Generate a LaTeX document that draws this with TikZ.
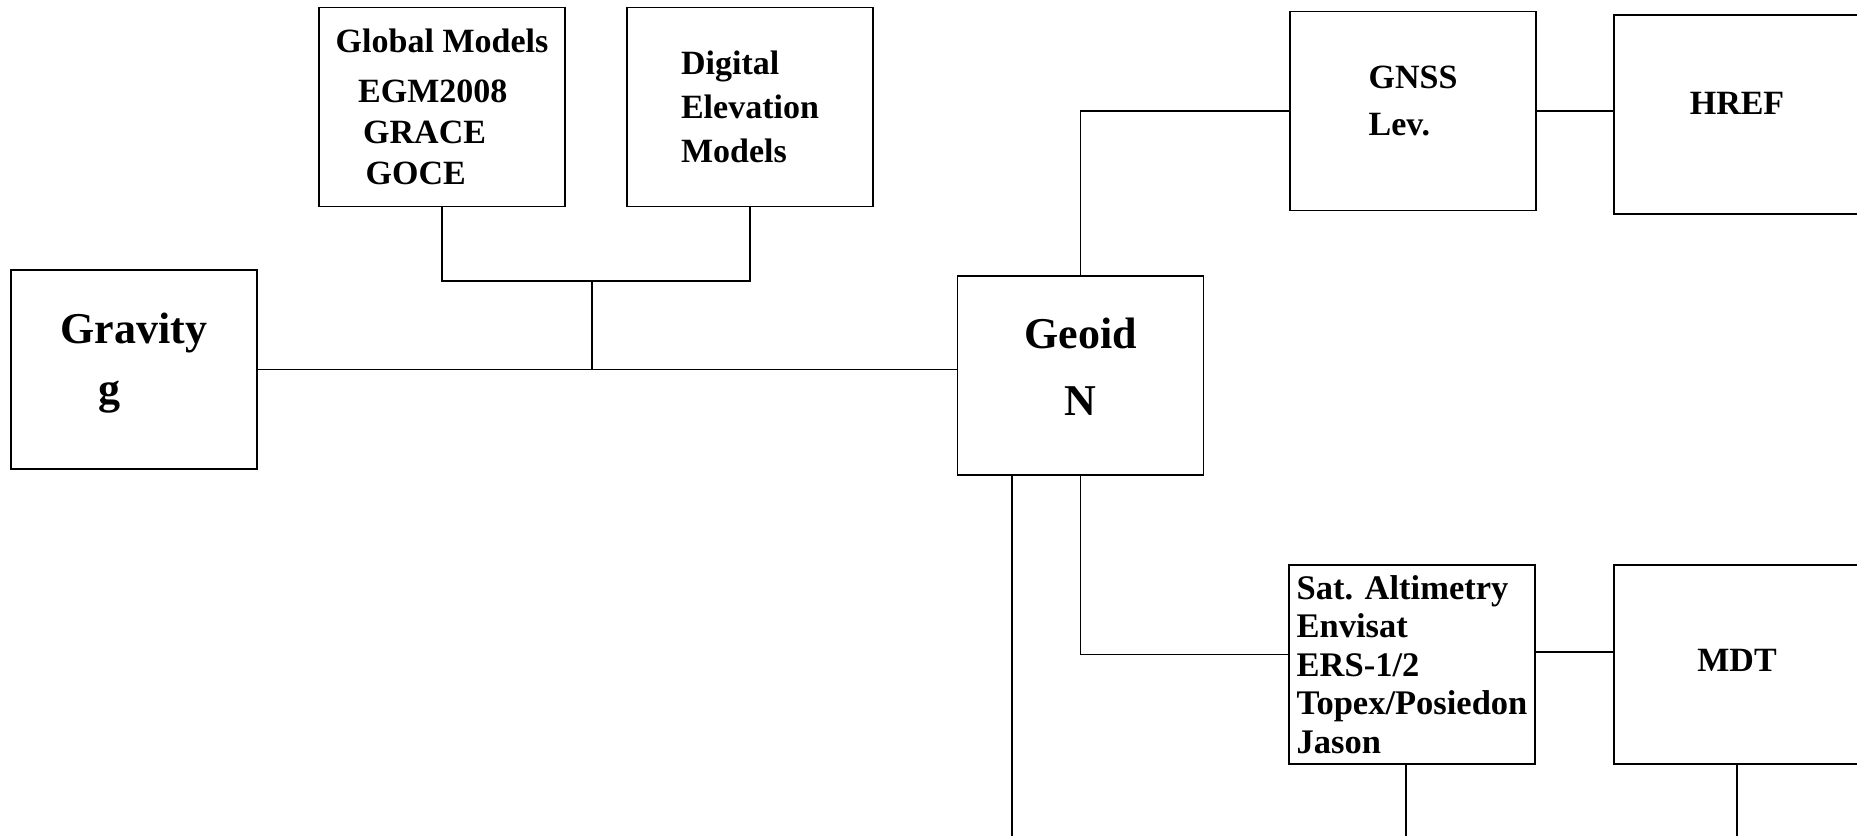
\documentclass[tikz,border=0pt]{standalone}
\usepackage{fontspec}
\setmainfont{Liberation Serif}
\begin{document}
\begin{tikzpicture}[
    x=0.4pt, y=-0.4pt,
    linestyle/.style={draw, line width=0.5pt},
    boxstyle/.style={rectangle, draw, line width=0.6pt, minimum width=98.4pt,
        minimum height=79.6pt, inner sep=0pt, align=left,
        font=\bfseries\fontsize{13.6pt}{17.6pt}\selectfont},
    bigbox/.style={boxstyle, align=center,
        font=\bfseries\fontsize{17.6pt}{26pt}\selectfont},
    listbox/.style={boxstyle,
        font=\bfseries\fontsize{13.8pt}{15.4pt}\selectfont}
]
\useasboundingbox (0,0) rectangle (1857,835);
\clip (0,0) rectangle (1857,835);

\node (Gravity) [bigbox, align=left, text depth=9pt] at (134,369.5)
  {Gravity\\[-2pt]\hspace*{15pt}g};
\node (GlobalModels) [boxstyle, font=\bfseries\fontsize{13.6pt}{16.5pt}\selectfont]
  at (442,107)
  {Global Models\\[3.5pt]\hspace*{9pt}EGM2008\\\hspace*{11pt}GRACE\\\hspace*{12pt}GOCE};
\node (DEM) [boxstyle] at (750,107) {Digital\\Elevation\\Models};
\node (Geoid) [bigbox, text depth=7pt] at (1080.5,375.5) {Geoid\\[1pt]N};
\node (GNSS) [boxstyle, text depth=8pt] at (1413,111) {GNSS\\[1.2pt]Lev.};
\node (HREF) [boxstyle, text depth=8.8pt] at (1737,114.5) {HREF};
\node (SatAlt) [listbox] at (1412,664.5)
  {Sat. Altimetry\\Envisat\\ERS-1/2\\Topex/Posiedon\\Jason};
\node (MDT) [boxstyle, text depth=3pt] at (1737,664.5) {MDT};

\coordinate (Join01) at (592,281);
\coordinate (Down01) at (1012,840);
\coordinate (Down02) at (1406,840);

\draw[linestyle] (Gravity.east) -- (Gravity.east -| Geoid.west);
\draw[linestyle] (GlobalModels.south) |- (Join01) -| (DEM.south);
\draw[linestyle] (Join01) -- (Join01 |- Gravity.east);
\draw[linestyle] (Geoid.north) |- (GNSS.west);
\draw[linestyle] (GNSS.east) -- (GNSS.east -| HREF.west);
\draw[linestyle] (Geoid.south) |- ([yshift=4pt]SatAlt.west);
\draw[linestyle] (Geoid.south -| Down01) -- (Down01);
\draw[linestyle] ([yshift=5pt]SatAlt.east) -- ([yshift=5pt]SatAlt.east -| MDT.west);
\draw[linestyle] (SatAlt.south -| Down02) -- (Down02);
\draw[linestyle] (MDT.south) -- (MDT.south |- Down02);

\end{tikzpicture}
\end{document}
